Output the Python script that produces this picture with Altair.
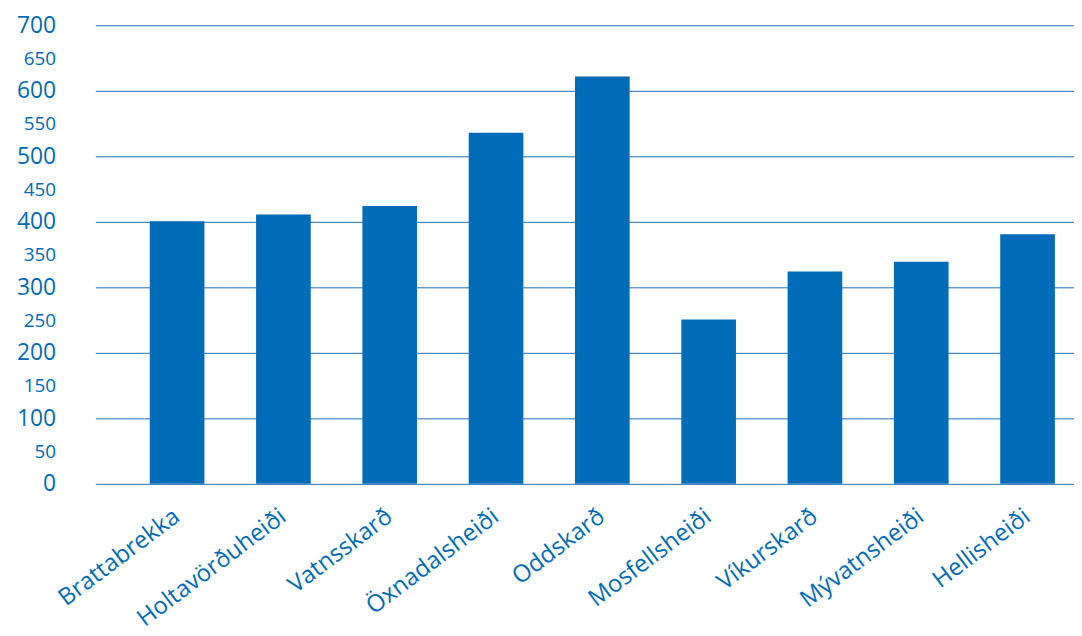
import altair as alt
import pandas as pd

passes = ["Brattabrekka", "Holtavörðuheiði", "Vatnsskarð", "Öxnadalsheiði", "Oddskarð",
          "Mosfellsheiði", "Víkurskarð", "Mývatnsheiði", "Hellisheiði"]
values = [401, 411, 424, 536, 622, 251, 324, 339, 381]
y_ticks = list(range(0, 701, 50))

df = pd.DataFrame({"pass": passes, "value": values})

blue = "#006bb6"
font = "Open Sans"

chart = alt.Chart(df).mark_bar(color=blue).encode(
    x=alt.X("pass:N", sort=passes, title=None,
            scale=alt.Scale(paddingInner=0.486, paddingOuter=0.346, align=0.74),
            axis=alt.Axis(labelAngle=-37, labelAlign="right", labelBaseline="middle",
                          labelFont=font, labelFontSize=24, labelColor=blue,
                          labelPadding=30, labelLimit=400, ticks=False, domain=False, grid=False)),
    y=alt.Y("value:Q", title=None,
            scale=alt.Scale(domain=[0, 700], nice=False, zero=True),
            axis=alt.Axis(values=y_ticks, ticks=False, domain=False,
                          labelFont=font, labelColor=blue, labelPadding=40,
                          labelFontSize={"condition": {"test": "datum.value % 100 === 0", "value": 23}, "value": 19},
                          grid=True, gridColor="#1f6fb5", gridWidth=1,
                          gridOpacity={"condition": {"test": "datum.value % 100 === 0", "value": 1}, "value": 0}))
).properties(
    width=986, height=462,
    autosize=alt.AutoSizeParams(type="none"),
    padding={"left": 88, "top": 15, "right": 0, "bottom": 170}
).configure_view(stroke=None)

chart.save("out.html", embed_options={"renderer": "svg", "actions": False})
